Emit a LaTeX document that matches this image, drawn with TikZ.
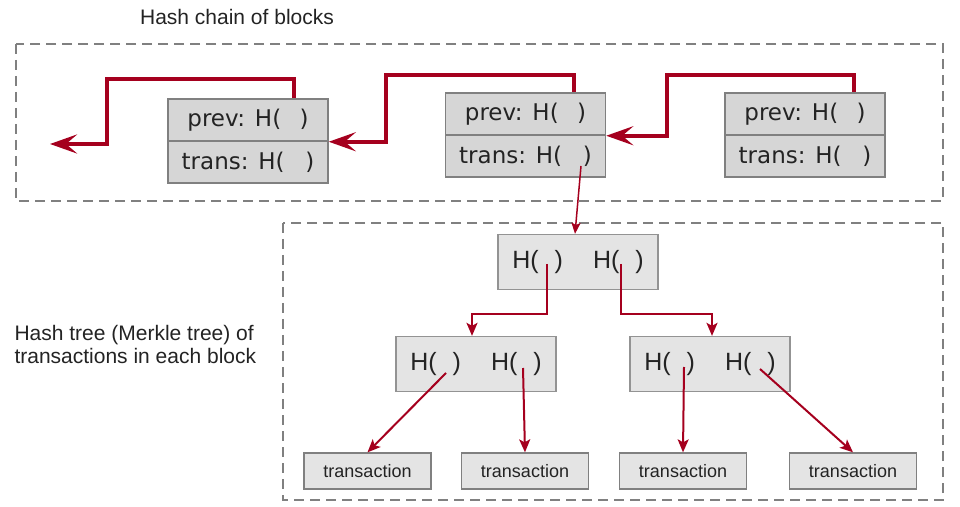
\documentclass[tikz,border=0pt]{standalone}
\usepackage{fontspec}
\setmainfont{Liberation Sans}
\newfontfamily\blockfont{DejaVu Sans}
\usepackage{tikz}
\usetikzlibrary{arrows.meta}
\definecolor{chainred}{RGB}{165,0,30}
\definecolor{boxgray}{RGB}{214,214,214}
\definecolor{treegray}{RGB}{228,228,228}
\definecolor{edgegray}{RGB}{128,128,128}
\definecolor{textgray}{RGB}{35,35,35}
\tikzstyle{block}=[draw=edgegray,fill=boxgray,line width=1.5pt,minimum width=160pt,minimum height=42pt,inner sep=0pt,text=textgray,font=\blockfont\fontsize{23}{27}\selectfont]
\tikzstyle{hashbox}=[draw=edgegray!85,fill=treegray,line width=1.3pt,minimum width=160pt,minimum height=55pt,inner sep=0pt,text=textgray,font=\fontsize{25}{29}\selectfont]
\tikzstyle{txbox}=[draw=edgegray,fill=treegray,line width=1.3pt,minimum width=127pt,minimum height=36pt,inner sep=0pt,text=textgray,font=\fontsize{18}{22}\selectfont]
\tikzstyle{chain}=[draw=chainred,line width=4pt,-{Stealth[length=27pt,width=19pt,inset=11pt]}]
\tikzstyle{link}=[draw=chainred,line width=2pt,-{Stealth[length=13pt,width=11pt,inset=3pt]}]
\tikzstyle{region}=[draw=edgegray,line width=1.5pt,dash pattern=on 10pt off 6pt]

\begin{document}
\begin{tikzpicture}[x=1pt,y=1pt]
  \tikzstyle{title}=[text=textgray,font=\fontsize{21}{23}\selectfont]
  \useasboundingbox (0,0) rectangle (960,506);

  % dashed regions
  \draw[region] (16,462) rectangle (943,305);
  \draw[region] (283,283) rectangle (943,6);
  \node[title] (chaintitle) at (237,489) {Hash chain of blocks};
  \node[title,anchor=west,align=left] (treetitle) at (11,162) {Hash tree (Merkle tree) of\\transactions in each block};

  % blocks
  \node[block] (prev1) at (248,386) {prev: H(\hspace{0.8em})};
  \node[block] (trans1) at (248,344) {trans: H(\hspace{0.9em})};
  \node[block] (prev2) at (525.5,392) {prev: H(\hspace{0.8em})};
  \node[block] (trans2) at (525.5,350) {trans: H(\hspace{0.9em})};
  \node[block] (prev3) at (805,392) {prev: H(\hspace{0.8em})};
  \node[block] (trans3) at (805,350) {trans: H(\hspace{0.9em})};

  \coordinate (chainend) at (50,362);
  \draw[chain] ([xshift=46]prev1.north) |- (107,427) |- (chainend);
  \draw[chain] ([xshift=48.5]prev2.north) |- (386,431) |- (prev1.south east);
  \draw[chain] ([xshift=49]prev3.north) |- (667,431) |- (prev2.south east);

  % merkle tree
  \node[hashbox] (root) at (578,244) {H(\hspace{16pt})\hspace{30pt}H(\hspace{16pt})};
  \node[hashbox] (midL) at (476,142) {H(\hspace{16pt})\hspace{30pt}H(\hspace{16pt})};
  \node[hashbox] (midR) at (710,142) {H(\hspace{16pt})\hspace{30pt}H(\hspace{16pt})};
  \node[txbox] (leaf1) at (367.5,35) {transaction};
  \node[txbox] (leaf2) at (525,35) {transaction};
  \node[txbox] (leaf3) at (683,35) {transaction};
  \node[txbox] (leaf4) at (853,35) {transaction};

  \coordinate (t2) at ([xshift=55.5,yshift=-10]trans2.center);
  \coordinate (rootL) at ([xshift=-31,yshift=-2]root.center);
  \coordinate (rootR) at ([xshift=43,yshift=-2]root.center);
  \coordinate (midLa) at ([xshift=-30,yshift=-9]midL.center);
  \coordinate (midLb) at ([xshift=47,yshift=-4]midL.center);
  \coordinate (midRa) at ([xshift=-26,yshift=-3]midR.center);
  \coordinate (midRb) at ([xshift=50,yshift=-5]midR.center);

  \draw[link,line width=1.5pt,-{Stealth[length=11pt,width=9pt,inset=2pt]}] (t2) -- ([xshift=-3]root.north);
  \draw[link] (rootL) -- ++(0,-50) -| ([xshift=-4]midL.north);
  \draw[link] (rootR) -- ++(0,-50) -| ([xshift=2]midR.north);
  \draw[link] (midLa) -- (leaf1.north);
  \draw[link] (midLb) -- (leaf2.north);
  \draw[link] (midRa) -- (leaf3.north);
  \draw[link] (midRb) -- (leaf4.north);
\end{tikzpicture}
\end{document}
